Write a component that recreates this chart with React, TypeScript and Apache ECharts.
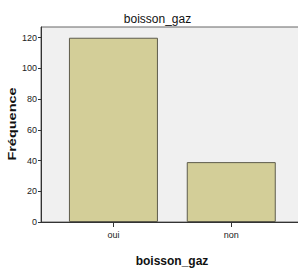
import React, { useEffect, useRef } from "react";
import * as echarts from "echarts";

const categories = ["oui", "non"];
const frequencies = [120, 39];
const yTicks = [0, 20, 40, 60, 80, 100, 120];

const SANS = '"Liberation Sans", Arial, sans-serif';

export default function App() {
  const ref = useRef<HTMLDivElement>(null);
  useEffect(() => {
    document.body.style.margin = "0";
    const chart = echarts.init(ref.current!, null, { renderer: "svg" });
    const xIdx = categories.map((_, i) => i);
    chart.setOption({
      animation: false,
      title: {
        text: "boisson_gaz",
        left: 152.5,
        top: 8,
        textAlign: "center",
        textStyle: { fontFamily: SANS, fontSize: 12, fontWeight: "normal", color: "#111" },
      },
      graphic: [
        {
          type: "text",
          x: 13,
          y: 124,
          rotation: Math.PI / 2,
          scaleX: 1.45,
          style: {
            text: "Fréquence",
            fontFamily: SANS,
            fontSize: 10,
            fontWeight: "bold",
            fill: "#111",
            align: "center",
            verticalAlign: "middle",
          },
        },
      ],
      grid: {
        left: 41,
        right: -5,
        top: 27,
        bottom: 48,
        outerBoundsMode: "none",
        containLabel: false,
        show: true,
        backgroundColor: "#F0F0F0",
        borderColor: "#666",
        borderWidth: 1,
      },
      xAxis: {
        type: "value",
        min: -0.615,
        max: 1.609,
        name: "boisson_gaz",
        nameLocation: "middle",
        nameGap: 33,
        nameTextStyle: { fontFamily: SANS, fontSize: 12, fontWeight: "bold", color: "#111" },
        axisLine: { show: true, onZero: false, lineStyle: { color: "#333", width: 1 } },
        axisTick: { show: true, customValues: xIdx, length: 5, lineStyle: { color: "#333" } },
        axisLabel: {
          customValues: xIdx,
          formatter: (v: number) => categories[Math.round(v)] ?? "",
          fontFamily: SANS,
          fontSize: 9,
          color: "#222",
          margin: 8,
        },
        splitLine: { show: false },
      },
      yAxis: {
        type: "value",
        min: 0,
        max: 127,
        axisLine: { show: true, onZero: false, lineStyle: { color: "#333", width: 1 } },
        axisTick: { show: true, customValues: yTicks, length: 3, lineStyle: { color: "#333" } },
        axisLabel: {
          customValues: yTicks,
          fontFamily: SANS,
          fontSize: 9,
          color: "#222",
          margin: 4,
        },
        splitLine: { show: false },
      },
      series: [
        {
          type: "bar",
          barWidth: 89,
          data: frequencies.map((v, i) => [i, v]),
          itemStyle: { color: "#D3CE98", borderColor: "#5E5C4C", borderWidth: 1 },
        },
      ],
    });
    return () => chart.dispose();
  }, []);
  return <div ref={ref} style={{ width: 298, height: 270 }} />;
}
